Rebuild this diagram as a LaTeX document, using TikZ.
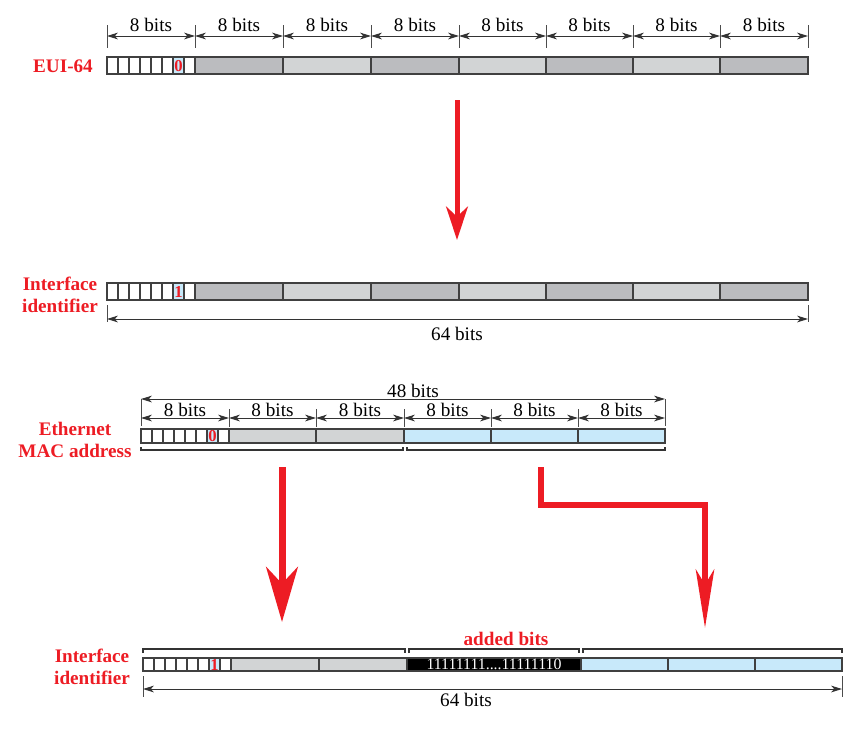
\documentclass[tikz,border=0pt]{standalone}
\usepackage{fontspec}
\setmainfont{Liberation Serif}
\usetikzlibrary{arrows.meta}

\definecolor{addrred}{RGB}{237,28,36}
\definecolor{darkseg}{RGB}{187,188,191}
\definecolor{lightseg}{RGB}{210,212,213}
\definecolor{blueseg}{RGB}{200,233,250}

\tikzset{
    bitlbl/.style={font=\fontsize{11.5}{13}\selectfont, inner sep=0pt},
    redlbl/.style={font=\bfseries\fontsize{11.5}{13.5}\selectfont, text=addrred, align=center, inner sep=0pt},
    flipbit/.style={font=\bfseries\fontsize{10}{10}\selectfont, text=addrred, inner sep=0pt},
    dimline/.style={{Stealth[length=6.5pt,width=4pt,inset=1.8pt]}-{Stealth[length=6.5pt,width=4pt,inset=1.8pt]}, line width=0.6pt, black!80},
    dimtick/.style={line width=0.6pt, black!70},
    seg/.style={draw=black!75, line width=0.8pt},
    bracket/.style={line width=0.9pt, black!80},
    bigarrow/.style={addrred, line width=3pt, -{Stealth[length=20pt,width=13pt,inset=6pt]}}
}

\begin{document}
\begin{tikzpicture}[x=0.6pt, y=-0.6pt]
                    \useasboundingbox (0,0) rectangle (866,730);

                    % EUI-64
                    \node[redlbl] (eui) at (63,66) {EUI-64};
                    \foreach \i in {0,...,7}
                        \draw[seg] ({107+\i*11},57) rectangle ++(11,17);
                    \draw[seg, fill=blueseg] (173,57) rectangle (184,74);
                    \node[flipbit] (euibit) at (178.5,66) {0};
                    \draw[seg, fill=darkseg] (195,57) rectangle (283,74);
                    \draw[seg, fill=lightseg] (283,57) rectangle (371,74);
                    \draw[seg, fill=darkseg] (371,57) rectangle (459,74);
                    \draw[seg, fill=lightseg] (459,57) rectangle (546,74);
                    \draw[seg, fill=darkseg] (546,57) rectangle (633,74);
                    \draw[seg, fill=lightseg] (633,57) rectangle (720,74);
                    \draw[seg, fill=darkseg] (720,57) rectangle (808,74);
                    \foreach \a/\b in {107/195, 195/283, 283/371, 371/459, 459/546, 546/633, 633/720, 720/808} {
                        \draw[dimline] (\a,36) -- (\b,36);
                        \node[bitlbl] at ({(\a+\b)/2},25) {8 bits};
                    }
                    \foreach \a in {107,195,283,371,459,546,633,720,808}
                        \draw[dimtick] (\a,25) -- (\a,48);

                    \coordinate (topfrom) at (457,100);
                    \coordinate (topto) at (457,240);
                    \draw[bigarrow] (topfrom) -- (topto);

                    % Interface identifier from EUI-64
                    \node[redlbl] (ifid) at (60,295) {Interface\\identifier};
                    \foreach \i in {0,...,7}
                        \draw[seg] ({107+\i*11},283) rectangle ++(11,17);
                    \draw[seg, fill=blueseg] (173,283) rectangle (184,300);
                    \node[flipbit] (ifbit) at (178.5,292) {1};
                    \draw[seg, fill=darkseg] (195,283) rectangle (283,300);
                    \draw[seg, fill=lightseg] (283,283) rectangle (371,300);
                    \draw[seg, fill=darkseg] (371,283) rectangle (459,300);
                    \draw[seg, fill=lightseg] (459,283) rectangle (546,300);
                    \draw[seg, fill=darkseg] (546,283) rectangle (633,300);
                    \draw[seg, fill=lightseg] (633,283) rectangle (720,300);
                    \draw[seg, fill=darkseg] (720,283) rectangle (808,300);
                    \draw[dimtick] (107,305) -- (107,322);
                    \draw[dimtick] (808,305) -- (808,322);
                    \draw[dimline] (107,319) -- (808,319);
                    \node[bitlbl] (ifsize) at (457,334) {64 bits};

                    % Ethernet MAC address
                    \node[redlbl] (mac) at (75,440) {Ethernet\\MAC address};
                    \foreach \i in {0,...,7}
                        \draw[seg] ({141+\i*11},429) rectangle ++(11,14);
                    \draw[seg, fill=blueseg] (207,429) rectangle (218,443);
                    \node[flipbit] (macbit) at (212.5,436.5) {0};
                    \draw[seg, fill=lightseg] (229,429) rectangle (316,443);
                    \draw[seg, fill=lightseg] (316,429) rectangle (404,443);
                    \draw[seg, fill=blueseg] (404,429) rectangle (491,443);
                    \draw[seg, fill=blueseg] (491,429) rectangle (578,443);
                    \draw[seg, fill=blueseg] (578,429) rectangle (665,443);
                    \draw[dimline] (141,399) -- (665,399);
                    \node[bitlbl] (macsize) at (413,391) {48 bits};
                    \draw[dimtick] (141,399) -- (141,426);
                    \draw[dimtick] (665,399) -- (665,426);
                    \foreach \a/\b in {141/229, 229/316, 316/404, 404/491, 491/578, 578/665} {
                        \draw[dimline] (\a,418) -- (\b,418);
                        \node[bitlbl] at ({(\a+\b)/2},410) {8 bits};
                    }
                    \foreach \a in {229,316,404,491,578}
                        \draw[dimtick] (\a,409) -- (\a,427);
                    \draw[bracket] (141,447) -- (141,450) -- (403,450) -- (403,447);
                    \draw[bracket] (407,447) -- (407,450) -- (665,450) -- (665,447);

                    \coordinate (leftfrom) at (282,467);
                    \coordinate (leftto) at (282,622);
                    \draw[addrred, line width=4.2pt, -{Stealth[length=33pt,width=19pt,inset=10pt]}] (leftfrom) -- (leftto);
                    \coordinate (rightfrom) at (541,467);
                    \coordinate (rightto) at (705,628);
                    \draw[addrred, line width=4pt, miter limit=10, -{Stealth[length=35pt,width=11pt,inset=9pt]}] (rightfrom) -- (541,505) -| (rightto);

                    % Interface identifier from MAC
                    \node[redlbl] (ifidmac) at (92,667) {Interface\\identifier};
                    \draw[bracket] (143,653) -- (143,649) -- (405,649) -- (405,653);
                    \draw[bracket] (409,653) -- (409,649) -- (579,649) -- (579,653);
                    \draw[bracket] (583,653) -- (583,649) -- (842,649) -- (842,653);
                    \node[redlbl] (added) at (506,639) {added bits};
                    \foreach \i in {0,...,7}
                        \draw[seg] ({143+\i*11},658) rectangle ++(11,13);
                    \draw[seg, fill=blueseg] (209,658) rectangle (220,671);
                    \node[flipbit] (macifbit) at (214.5,664.5) {1};
                    \draw[seg, fill=lightseg] (231,658) rectangle (319,671);
                    \draw[seg, fill=lightseg] (319,658) rectangle (407,671);
                    \draw[seg, fill=black] (407,658) rectangle (581,671);
                    \node[font=\fontsize{9.5}{10}\selectfont, text=white, inner sep=0pt] (fffe) at (494,664.5) {11111111....11111110};
                    \draw[seg, fill=blueseg] (581,658) rectangle (668,671);
                    \draw[seg, fill=blueseg] (668,658) rectangle (755,671);
                    \draw[seg, fill=blueseg] (755,658) rectangle (842,671);
                    \draw[dimtick] (143,676) -- (143,697);
                    \draw[dimtick] (842,676) -- (842,697);
                    \draw[dimline] (143,689) -- (842,689);
                    \node[bitlbl] (macifsize) at (466,700) {64 bits};
                \end{tikzpicture}
\end{document}
